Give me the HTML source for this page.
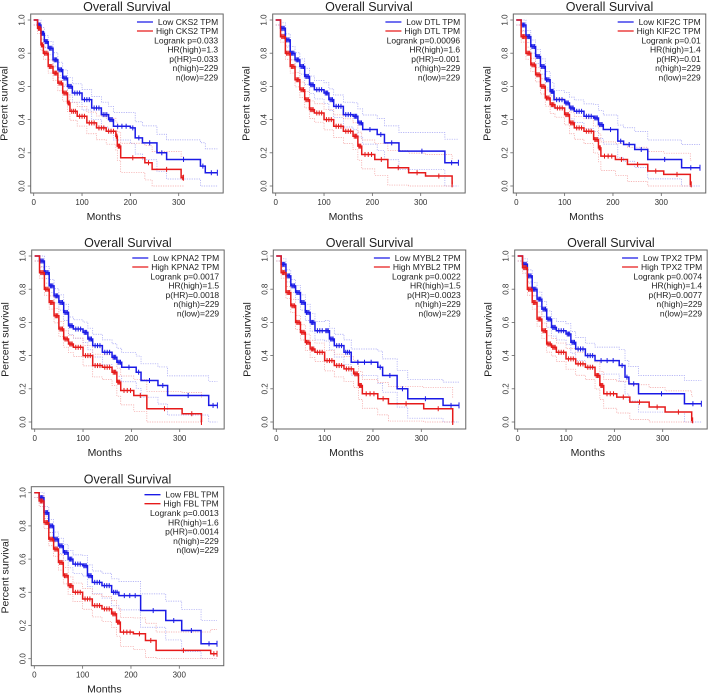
<!DOCTYPE html>
<html><head><meta charset="utf-8"><style>
html,body{margin:0;padding:0;background:#fff;}
svg{display:block;font-family:"Liberation Sans",Arial,sans-serif;}
</style></head><body>
<svg id="fig" width="708" height="698" viewBox="0 0 708 698" xmlns="http://www.w3.org/2000/svg"></svg>
<script>
// ---- data (months, survival) ----
const genes = ["CKS2","DTL","KIF2C","KPNA2","MYBL2","TPX2","FBL"];
const logrankP = ["0.033","0.00096","0.01","0.0017","0.0022","0.0074","0.0013"];
const hrHigh = ["1.3","1.6","1.4","1.5","1.5","1.4","1.6"];
const pHR = ["0.033","0.001","0.01","0.0018","0.0023","0.0077","0.0014"];
const nHigh = [229,229,229,229,229,229,229];
const nLow = [229,229,229,229,229,229,229];
const xTicks = [0,100,200,300];
const yTicks = [0,0.2,0.4,0.6,0.8,1.0];
const yTickLabels = ["0.0","0.2","0.4","0.6","0.8","1.0"];

const lowT = [
 [0,8,15,22,30,40,50,60,70,80,100,120,140,155,165,200,210,225,255,275,345,355],
 [0,10,20,30,40,50,60,70,80,100,110,120,140,160,170,180,210,225,255,350],
 [0,10,20,30,40,50,60,70,78,100,110,120,140,160,170,180,210,222,245,272,342],
 [0,10,20,30,40,50,60,70,80,100,110,120,140,160,170,180,210,220,255,275,360],
 [0,10,20,30,40,50,60,70,80,100,110,120,140,155,210,220,250,272,345],
 [0,10,20,30,40,50,60,70,80,100,110,120,140,160,210,222,230,250,345],
 [0,10,20,30,40,50,60,70,80,100,110,120,140,160,175,220,272,305,345]
];
const lowS = [
 [1,.97,.92,.87,.83,.76,.70,.65,.60,.56,.52,.47,.43,.40,.36,.35,.29,.26,.20,.16,.12,.08],
 [1,.95,.88,.80,.76,.72,.66,.61,.58,.56,.52,.48,.43,.42,.38,.34,.31,.26,.21,.14],
 [1,.97,.90,.84,.78,.72,.64,.57,.52,.50,.47,.45,.42,.41,.37,.34,.27,.25,.22,.16,.11],
 [1,.97,.90,.82,.76,.72,.66,.58,.56,.54,.50,.46,.42,.39,.36,.33,.30,.25,.22,.16,.10],
 [1,.95,.88,.82,.78,.72,.66,.60,.55,.55,.50,.46,.42,.36,.33,.28,.20,.14,.10],
 [1,.95,.88,.80,.74,.68,.62,.57,.55,.53,.48,.44,.40,.37,.34,.27,.23,.17,.11],
 [1,.97,.88,.80,.72,.68,.64,.60,.57,.56,.50,.46,.44,.40,.38,.29,.23,.17,.09]
];
const lowEnd = [380,378,380,378,378,380,378];
const highT = [
 [0,8,15,20,30,40,50,60,70,75,90,110,130,150,170,173,180,230,245,305],
 [0,10,20,30,40,50,60,70,80,100,120,140,160,170,178,205,232,275,310,365],
 [0,10,20,30,40,50,60,70,80,100,110,120,140,160,170,175,205,230,272,305,360],
 [0,10,20,30,40,50,60,70,80,100,120,140,160,170,178,205,232,305,345],
 [0,10,20,30,40,50,60,70,80,100,120,140,160,170,178,210,232,305,365],
 [0,10,20,30,40,50,60,70,80,100,120,140,160,170,178,205,232,272,305,360],
 [0,10,20,30,40,50,60,70,80,100,120,140,160,170,178,205,230,252,365]
];
const highS = [
 [1,.95,.85,.80,.72,.68,.62,.56,.50,.45,.42,.38,.35,.33,.30,.24,.17,.14,.10,.05],
 [1,.90,.80,.72,.64,.58,.52,.46,.44,.40,.36,.33,.30,.24,.19,.16,.11,.08,.06,.01],
 [1,.90,.80,.73,.67,.60,.53,.49,.47,.43,.38,.35,.33,.28,.23,.18,.16,.13,.09,.07,.01],
 [1,.90,.80,.72,.64,.56,.50,.47,.45,.40,.34,.33,.30,.24,.19,.16,.08,.05,.00],
 [1,.90,.78,.70,.60,.54,.48,.44,.42,.37,.34,.32,.29,.22,.17,.14,.11,.08,.00],
 [1,.93,.80,.72,.62,.55,.47,.45,.42,.38,.35,.33,.28,.22,.17,.15,.12,.09,.06,.01],
 [1,.95,.82,.72,.66,.58,.50,.44,.40,.36,.32,.30,.27,.22,.16,.15,.11,.05,.03]
];
const highEnd = [310,365,362,345,365,362,378];

// ---- layout ----
const panelX0 = [33.7,275.7,516.3,34.7,276.3,517.7,34.3];
const panelY1 = [20,20,20,256,256,256,492.7];
const PX_PER_MONTH = 145/300, PX_PER_UNIT = 166;
const svg = document.getElementById('fig');
const NS = "http://www.w3.org/2000/svg";
function mk(tag, attrs, parent){const e=document.createElementNS(NS,tag);for(const k in attrs)e.setAttribute(k,attrs[k]);(parent||svg).appendChild(e);return e;}

function stepPath(T,S,end,xs,ys,shift){
  let d="";
  for(let i=0;i<T.length;i++){
    const s=Math.max(0,Math.min(1,S[i]+(shift?shift(T[i]):0)));
    const x=xs(T[i]), y=ys(s);
    if(i===0) d+="M"+x+","+y; else d+="V"+y;
    const nx = i<T.length-1 ? xs(T[i+1]) : xs(end);
    d+="H"+nx;
  }
  return d;
}

genes.forEach((g,p)=>{
  const x0=panelX0[p], y1=panelY1[p], y0=y1+PX_PER_UNIT;
  const xs=t=>x0+t*PX_PER_MONTH, ys=s=>y0-s*PX_PER_UNIT;
  const G=mk('g',{},svg);
  
  
  const L=x0-3, R=xs(392), T=y1-6, B=y0+7;
  const box=mk('rect',{x:L,y:T,width:R-L,height:B-T,fill:'none',stroke:'#666','stroke-width':1},G);
  
  
  const title=mk('text',{x:(L+R)/2,y:T-3,'text-anchor':'middle','font-size':12.5,fill:'#222'},G);
  title.textContent='Overall Survival';
  
  
  xTicks.forEach(v=>{
    mk('line',{x1:xs(v),x2:xs(v),y1:B,y2:B+3,stroke:'#666','stroke-width':0.8},G);
    const t=mk('text',{x:xs(v),y:B+12,'text-anchor':'middle','font-size':8,fill:'#333'},G);
    t.textContent=v;
    
    
  });
  yTicks.forEach((v,i)=>{
    mk('line',{x1:L-3,x2:L,y1:ys(v),y2:ys(v),stroke:'#666','stroke-width':0.8},G);
    const cx=L-6, cy=ys(v);
    const t=mk('text',{x:cx,y:cy,'text-anchor':'middle','font-size':8,fill:'#333',transform:`rotate(-90 ${cx} ${cy})`},G);
    t.textContent=yTickLabels[i];
    
    
  });
  const xl=mk('text',{x:xs(145),y:B+27,'text-anchor':'middle','font-size':10.5,fill:'#222'},G);
  xl.textContent='Months';
  
  
  const ycx=L-23, ycy=(T+B)/2;
  const yl=mk('text',{x:ycx,y:ycy,'text-anchor':'middle','font-size':10.5,fill:'#222',transform:`rotate(-90 ${ycx} ${ycy})`},G);
  yl.textContent='Percent survival';
  
  

  // confidence bands (derived from curves)
  const wid=t=>0.03+t*0.00032;
  [[lowT[p],lowS[p],lowEnd[p],'#8a8af0','low'],[highT[p],highS[p],highEnd[p],'#f08a8a','high']].forEach(([Tt,Ss,E,c,nm])=>{
    [1,-1].forEach(sg=>{
      const ci=mk('path',{d:stepPath(Tt,Ss,E,xs,ys,t=>sg*wid(t)),fill:'none',stroke:c,'stroke-width':0.7,'stroke-dasharray':'1.2,1.2',opacity:0.8},G);
      
      
    });
  });
  [[lowT[p],lowS[p],lowEnd[p],'#1a1ae6','low'],[highT[p],highS[p],highEnd[p],'#e61a1a','high']].forEach(([Tt,Ss,E,c,nm])=>{
    const pl=mk('path',{d:stepPath(Tt,Ss,E,xs,ys),fill:'none',stroke:c,'stroke-width':1.5},G);
    
    
    for(let i=1;i<Tt.length;i++){
      const nx=i<Tt.length-1?Tt[i+1]:E;
      const n = Tt[i]<180 ? 3 : 1;
      for(let k=1;k<=n;k++){
        const mx=Tt[i]+(nx-Tt[i])*k/(n+1);
        const tk=mk('line',{x1:xs(mx),x2:xs(mx),y1:ys(Ss[i])-2.5,y2:ys(Ss[i])+2.5,stroke:c,'stroke-width':1},G);
        
        
      }
    }
    const et=mk('line',{x1:xs(E),x2:xs(E),y1:ys(Ss[Ss.length-1])-3,y2:ys(Ss[Ss.length-1])+3,stroke:c,'stroke-width':1},G);
    
    
  });

  // legend
  const rx=R-5;
  const leg=[['Low '+g+' TPM','#1a1ae6'],['High '+g+' TPM','#e61a1a']];
  const txts=leg.map((l,i)=>{
    const t=mk('text',{x:rx,y:y1+5+i*9,'text-anchor':'end','font-size':8.5,fill:'#222'},G);
    t.textContent=l[0];
    
    
    return t;
  });
  const mw=Math.max(...txts.map(t=>t.getComputedTextLength()));
  leg.forEach((l,i)=>{
    const ln=mk('line',{x1:rx-mw-19,x2:rx-mw-3,y1:y1+2+i*9,y2:y1+2+i*9,stroke:l[1],'stroke-width':1.3},G);
    
    
  });
  const stats=['Logrank p='+logrankP[p],'HR(high)='+hrHigh[p],'p(HR)='+pHR[p],'n(high)='+nHigh[p],'n(low)='+nLow[p]];
  stats.forEach((s,i)=>{
    const t=mk('text',{x:rx,y:y1+23.3+i*9.3,'text-anchor':'end','font-size':8.5,fill:'#222'},G);
    t.textContent=s;
    
    
  });
});
</script>
</body></html>
